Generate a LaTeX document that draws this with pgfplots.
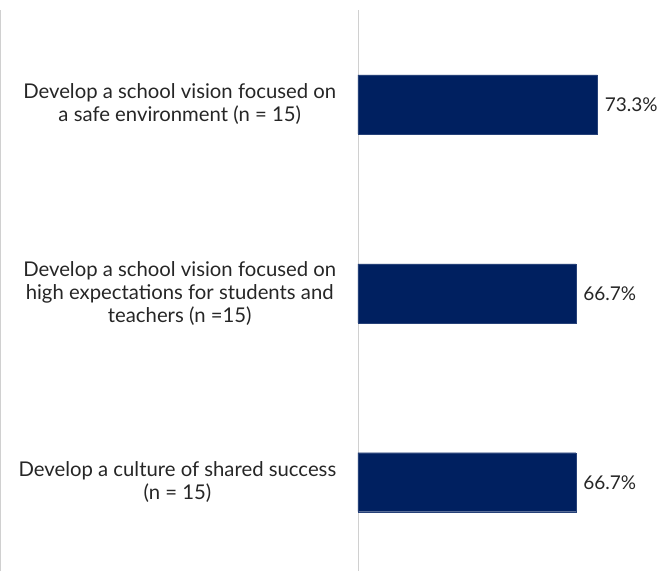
\documentclass[border=0pt]{standalone}
\usepackage{pgfplots}
\pgfplotsset{compat=1.18}
\usepackage{fontspec}
\setmainfont{Lato}
\definecolor{navy}{HTML}{002060}
\definecolor{txt}{HTML}{262626}
\definecolor{axgray}{HTML}{D0D0D0}
\begin{document}
\begin{tikzpicture}[x=1pt,y=1pt]
\useasboundingbox (0,0) rectangle (662,571);
\draw[axgray,line width=1pt] (0.5,0) -- (0.5,561);
\draw[axgray,line width=1pt] (358.5,0) -- (358.5,561);
\begin{axis}[
  at={(358pt,0pt)}, anchor=south west,
  scale only axis, width=304pt, height=561pt,
  xmin=0, xmax=93.1, ymin=-0.47, ymax=2.5,
  xbar, bar width=59pt,
  axis x line=none,
  axis y line*=left,
  y axis line style={draw=none},
  ytick={0,1,2}, ytick style={draw=none},
  yticklabels={{Develop a school vision focused on\\high expectations for students and\\teachers (n =15)},
               {Develop a culture of shared success\\(n = 15)},
               {Develop a school vision focused on\\a safe environment (n = 15)}},
  yticklabels={{Develop a culture of shared success\\(n = 15)},
               {Develop a school vision focused on\\high expectations for students and\\teachers (n =15)},
               {Develop a school vision focused on\\a safe environment (n = 15)}},
  yticklabel style={align=center, text=txt, font=\fontsize{20.3}{23}\selectfont, xshift=-14pt},
  nodes near coords={\pgfmathprintnumber[fixed,fixed zerofill,precision=1,assume math mode=true]{\pgfplotspointmeta}\%},
  nodes near coords style={text=txt, font=\fontsize{19}{21}\selectfont, anchor=west, xshift=4pt},
  point meta=x,
  clip=false,
]
\addplot[fill=navy, draw=navy!85!white] coordinates {(66.7,0) (66.7,1) (73.3,2)};
\end{axis}
\end{tikzpicture}
\end{document}
